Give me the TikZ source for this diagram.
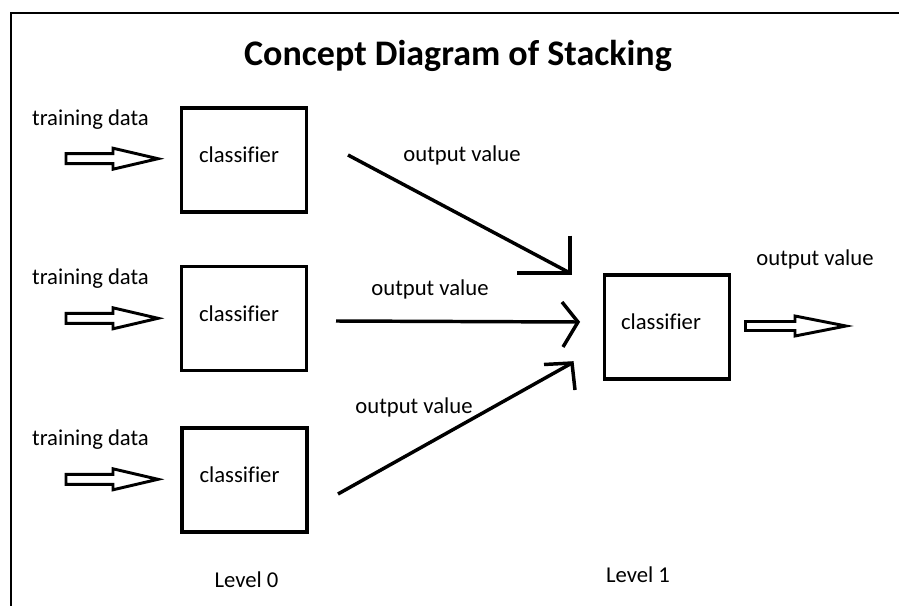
\documentclass[tikz,border=0pt]{standalone}
\usepackage{fontspec}
\setmainfont[Ligatures={NoCommon}]{Carlito}
\usetikzlibrary{positioning}

\tikzset{every picture/.style={line width=0.75pt}}
\tikzset{
  clsbox/.style={draw, line width=2.6pt, minimum width=93.75pt, minimum height=78pt, inner sep=0pt},
  lbl/.style={inner sep=0pt, font=\fontsize{17}{20}\selectfont},
  fatarrow/.style={draw, line width=2.2pt, line join=miter},
  flow/.style={draw, line width=2.6pt, line join=miter}
}

\begin{document}
\begin{tikzpicture}[x=0.75pt,y=0.75pt,yscale=-1,xscale=1]
\useasboundingbox (0,0) rectangle (899,606);

%Frame
\draw [line width=1.5pt] (11,606) -- (11,13) -- (899,13) ;

% Title
\node [inner sep=0pt, font=\fontsize{27}{32}\selectfont\bfseries] (title) at (458,56) {Concept Diagram of Stacking};

%Level 0 boxes
\node [clsbox] (clsA) at (244,160) {};
\node [clsbox] (clsB) at (244,318.5) {};
\node [clsbox] (clsC) at (244.5,480) {};
%Level 1 box
\node [clsbox] (clsD) at (667,327) {};

% Text Node
\node [lbl] (clsAtxt) at ([shift={(-5,-5)}]clsA.center) {classifier};
\node [lbl] (clsBtxt) at ([shift={(-5,-5)}]clsB.center) {classifier};
\node [lbl] (clsCtxt) at ([shift={(-5,-5)}]clsC.center) {classifier};
\node [lbl] (clsDtxt) at ([shift={(-6,-5)}]clsD.center) {classifier};

% Text Node
\node [lbl] (trainA) at (90.5,119.5) {training data};
\node [lbl] (trainB) at (90.5,278.5) {training data};
\node [lbl] (trainC) at (90.5,439.5) {training data};

%Hollow input arrows
\coordinate (inA) at (66,158.7);
\coordinate (inB) at (66,318.3);
\coordinate (inC) at (66,479.3);
\draw [fatarrow] (inA) ++(0,-5) -- ++(47,0) -- ++(0,-5.5) -- ++(45,10.5) -- ++(-45,10.5) -- ++(0,-5.5) -- ++(-47,0) -- cycle ;
\draw [fatarrow] (inB) ++(0,-5) -- ++(47,0) -- ++(0,-5.5) -- ++(45,10.5) -- ++(-45,10.5) -- ++(0,-5.5) -- ++(-47,0) -- cycle ;
\draw [fatarrow] (inC) ++(0,-5) -- ++(47,0) -- ++(0,-5.5) -- ++(45,10.5) -- ++(-45,10.5) -- ++(0,-5.5) -- ++(-47,0) -- cycle ;

%Hollow output arrow
\coordinate (outD) at (745.5,326);
\draw [fatarrow] (outD) ++(0,-4.5) -- ++(49.5,0) -- ++(0,-5.5) -- ++(51,10) -- ++(-51,10) -- ++(0,-5.5) -- ++(-49.5,0) -- cycle ;

%Straight Lines
\coordinate (fromA) at (348,155);
\coordinate (toA) at (570,273);
\draw [flow] (fromA) -- (toA) ;
\draw [flow] ([yshift=-28]toA) -- (toA) -- ([xshift=-40]toA) ;
%Straight Lines
\coordinate (fromB) at (336,321);
\coordinate (toB) at (578,322);
\draw [flow] (fromB) -- (toB) ;
\draw [flow] ([shift={(-16,-20)}]toB) -- (toB) -- ([shift={(-15,25)}]toB) ;
%Straight Lines
\coordinate (fromC) at (338,494);
\coordinate (toC) at (572,363);
\draw [flow] (fromC) -- (toC) ;
\draw [flow] ([shift={(-28,1.5)}]toC) -- (toC) -- ([shift={(3,27)}]toC) ;

% Text Node
\node [lbl] (ovA) at (462,155) {output value};
\node [lbl] (ovB) at (430,289) {output value};
\node [lbl] (ovC) at (414,407) {output value};
\node [lbl] (ovD) at (815,259) {output value};

% Text Node
\node [lbl] (lvl0) at (246.5,580) {Level 0};
\node [lbl] (lvl1) at (638,575) {Level 1};

\end{tikzpicture}
\end{document}
